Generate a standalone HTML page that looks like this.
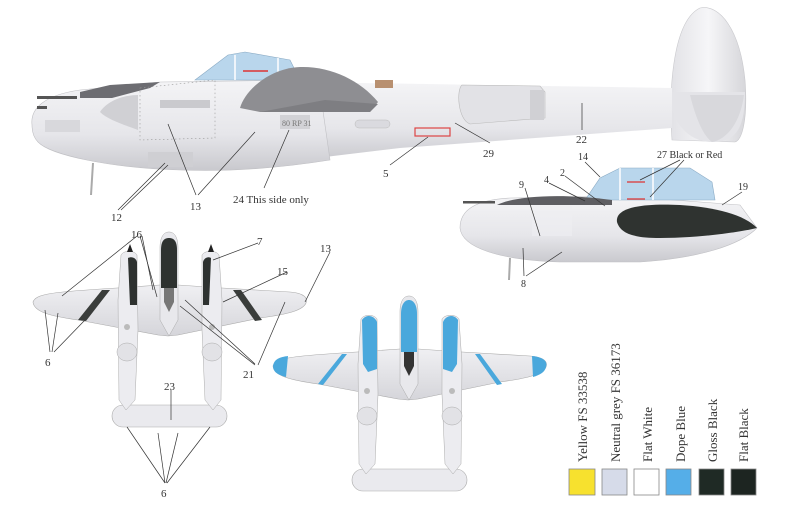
<!DOCTYPE html>
<html><head><meta charset="utf-8"><style>
html,body{margin:0;padding:0;background:#fff;}
svg{display:block}
text{font-family:"Liberation Serif",serif;fill:#333;}
</style></head><body>
<svg width="800" height="518" viewBox="0 0 800 518" xmlns="http://www.w3.org/2000/svg">
<defs>
<linearGradient id="body" x1="0" y1="0" x2="0" y2="1">
<stop offset="0" stop-color="#f4f4f6"/><stop offset="0.6" stop-color="#e6e6ea"/><stop offset="1" stop-color="#c9c9ce"/></linearGradient>
<linearGradient id="fin" x1="0" y1="0" x2="1" y2="0">
<stop offset="0" stop-color="#e2e2e6"/><stop offset="0.5" stop-color="#f6f6f8"/><stop offset="1" stop-color="#d6d6da"/></linearGradient>
<linearGradient id="top" x1="0" y1="0" x2="0" y2="1">
<stop offset="0" stop-color="#f0f0f3"/><stop offset="1" stop-color="#d5d5da"/></linearGradient>
</defs>
<rect width="800" height="518" fill="#fff"/>

<!-- ===== Main side view ===== -->
<!-- tail fin -->
<path d="M672,140 C668,80 675,20 700,8 C720,4 740,30 745,80 C748,120 742,140 735,142 Z" fill="url(#fin)" stroke="#c8c8cc" stroke-width="0.6"/>
<path d="M668,92 L745,92 C745,130 735,142 712,142 C690,142 672,125 668,92 Z" fill="#e4e4e8"/>
<path d="M690,95 C700,135 710,140 712,142 C725,140 740,125 744,95 Z" fill="#d8d8dc"/>
<!-- boom -->
<path d="M300,82 L672,88 L672,128 L400,148 L300,160 Z" fill="url(#body)"/>
<!-- turbo -->
<path d="M462,85 L540,86 L545,92 L545,118 L470,124 C458,120 456,90 462,85 Z" fill="#e2e2e6" stroke="#bbb" stroke-width="0.6"/>
<rect x="530" y="90" width="14" height="30" fill="#d0d0d4"/>
<!-- fuselage nacelle -->
<path d="M32,125 C30,108 45,95 80,90 L160,82 L300,80 L320,90 L330,160 C280,168 230,172 180,170 C110,168 50,155 38,142 C33,137 32,131 32,125 Z" fill="url(#body)" stroke="#c0c0c4" stroke-width="0.6"/>
<!-- canopy -->
<path d="M195,80 L228,55 L245,52 L290,60 L300,80 Z" fill="#b9d6ec" stroke="#8aaac4" stroke-width="0.6"/>
<line x1="235" y1="55" x2="235" y2="80" stroke="#fff" stroke-width="1.5"/>
<line x1="278" y1="58" x2="278" y2="80" stroke="#fff" stroke-width="1.5"/>
<line x1="243" y1="71" x2="268" y2="71" stroke="#d33" stroke-width="1.5"/>
<!-- dark wing root -->
<path d="M240,108 C245,90 270,68 300,67 C330,66 360,80 378,102 L370,112 L260,112 Z" fill="#8e8e92"/>
<path d="M260,112 L370,112 L378,104 L325,100 Z" fill="#7e7e82"/>
<rect x="375" y="80" width="18" height="8" fill="#b89070"/>
<!-- top cowl dark -->
<path d="M80,92 L110,85 L160,82 L150,88 L112,98 L80,98 Z" fill="#6d6d72"/>
<!-- spinner cone -->
<path d="M100,112 C108,100 125,95 138,95 L138,130 C125,125 108,120 100,112 Z" fill="#d0d0d4"/>
<!-- panels -->
<path d="M140,88 L215,80 L215,138 L140,140 Z" fill="none" stroke="#999" stroke-width="0.6" stroke-dasharray="1.5,2.5"/>
<rect x="160" y="100" width="50" height="8" fill="#cacace"/>
<rect x="148" y="152" width="45" height="15" fill="#cfcfd3"/>
<rect x="45" y="120" width="35" height="12" fill="#d8d8dc"/>
<rect x="280" y="115" width="30" height="14" fill="#d2d2d6"/>
<text x="282" y="126" font-size="8" style="fill:#777">80 RP 31</text>
<rect x="355" y="120" width="35" height="8" rx="4" fill="#dadadf" stroke="#bbb" stroke-width="0.5"/>
<rect x="415" y="128" width="35" height="8" fill="none" stroke="#d44" stroke-width="1.2"/>
<!-- guns -->
<rect x="37" y="96" width="40" height="3" fill="#555"/>
<rect x="37" y="106" width="10" height="3" fill="#555"/>
<!-- gear leg -->
<line x1="93" y1="163" x2="91" y2="195" stroke="#aaa" stroke-width="2"/>

<!-- leaders main -->
<g stroke="#333" stroke-width="0.7" fill="none">
<line x1="118" y1="210" x2="165" y2="163"/><line x1="121" y1="210" x2="168" y2="165"/>
<line x1="196" y1="195" x2="168" y2="124"/><line x1="198" y1="195" x2="255" y2="132"/>
<line x1="264" y1="188" x2="289" y2="130"/>
<line x1="390" y1="165" x2="428" y2="137"/>
<line x1="490" y1="143" x2="455" y2="123"/>
<line x1="582" y1="130" x2="582" y2="103"/>
</g>
<text x="111" y="221" font-size="11">12</text>
<text x="190" y="210" font-size="11">13</text>
<text x="233" y="203" font-size="11">24 This side only</text>
<text x="383" y="177" font-size="11">5</text>
<text x="483" y="157" font-size="11">29</text>
<text x="576" y="143" font-size="11">22</text>

<!-- ===== Small side view ===== -->
<path d="M460,228 C460,210 475,200 510,198 L620,196 L740,205 L757,228 C740,245 700,258 640,262 L560,262 C500,260 462,248 460,228 Z" fill="url(#body)" stroke="#c0c0c4" stroke-width="0.6"/>
<path d="M585,200 L600,178 L620,168 L690,168 L712,182 L715,200 Z" fill="#b9d6ec" stroke="#8aaac4" stroke-width="0.6"/>
<line x1="620" y1="168" x2="620" y2="200" stroke="#fff" stroke-width="1.5"/>
<line x1="653" y1="168" x2="653" y2="200" stroke="#fff" stroke-width="1.5"/>
<line x1="627" y1="182" x2="645" y2="182" stroke="#d33" stroke-width="1.2"/>
<line x1="627" y1="199" x2="645" y2="199" stroke="#d33" stroke-width="1.2"/>
<path d="M497,205 C515,196 560,193 612,200 L612,205 Z" fill="#5e5e62"/>
<path d="M617,222 C615,208 640,203 680,205 C715,207 745,215 757,228 C740,232 700,238 660,238 C630,238 620,232 617,222 Z" fill="#2f3330"/>
<rect x="463" y="201" width="32" height="2.5" fill="#555"/>
<rect x="532" y="206" width="40" height="30" fill="#efeff2" opacity="0.6"/>
<line x1="510" y1="258" x2="509" y2="280" stroke="#aaa" stroke-width="2"/>
<g stroke="#333" stroke-width="0.7" fill="none">
<line x1="585" y1="162" x2="600" y2="177"/>
<line x1="680" y1="160" x2="640" y2="180"/><line x1="684" y1="160" x2="650" y2="197"/>
<line x1="742" y1="192" x2="722" y2="205"/>
<line x1="525" y1="188" x2="540" y2="236"/>
<line x1="549" y1="183" x2="585" y2="201"/>
<line x1="565" y1="176" x2="605" y2="206"/>
<line x1="524" y1="276" x2="523" y2="248"/><line x1="526" y1="276" x2="562" y2="252"/>
</g>
<text x="578" y="160" font-size="10">14</text>
<text x="657" y="158" font-size="10">27 Black or Red</text>
<text x="738" y="190" font-size="10">19</text>
<text x="519" y="188" font-size="10">9</text>
<text x="544" y="183" font-size="10">4</text>
<text x="560" y="176" font-size="10">2</text>
<text x="521" y="287" font-size="10">8</text>

<!-- ===== Top view 1 ===== -->
<g id="p1">
<path d="M33,302 C36,294 50,292 117,288 L160,285 L178,285 L222,288 L290,292 C304,293 308,298 306,303 C303,310 290,314 260,318 L178,335 L168,336 L158,335 L78,320 C50,316 34,312 33,302 Z" fill="url(#top)" stroke="#aaa" stroke-width="0.6"/>
<rect x="112" y="405" width="115" height="22" rx="11" fill="#eaeaee" stroke="#aaa" stroke-width="0.6"/>
<path d="M118,300 L121,255 C124,250 134,250 137,255 L138,330 L135,400 L126,410 L119,400 Z" fill="#ececf0" stroke="#aaa" stroke-width="0.5"/>
<path d="M202,255 C205,250 216,250 219,255 L222,300 L221,400 L213,410 L205,400 L202,330 Z" fill="#ececf0" stroke="#aaa" stroke-width="0.5"/>
<ellipse cx="127" cy="352" rx="10" ry="9" fill="#e2e2e6" stroke="#aaa" stroke-width="0.5"/>
<ellipse cx="212" cy="352" rx="10" ry="9" fill="#e2e2e6" stroke="#aaa" stroke-width="0.5"/>
<path d="M160,248 C160,235 165,232 169,232 C173,232 178,235 178,248 L178,320 L169,336 L160,320 Z" fill="#e8e8ec" stroke="#aaa" stroke-width="0.5"/>
<path d="M161,250 C161,240 165,238 169,238 C173,238 177,240 177,250 L177,288 L161,288 Z" fill="#2e3230"/>
<path d="M164,288 L174,288 L174,302 L169,312 L164,302 Z" fill="#777"/>
<path d="M128,258 C132,256 136,258 137,262 L137,305 L130,305 Z" fill="#2e3230"/>
<path d="M203,262 C204,258 208,256 211,258 L209,305 L203,305 Z" fill="#2e3230"/>
<path d="M102,290 L110,290 L86,321 L78,320 Z" fill="#3a3d3b"/>
<path d="M233,290 L241,290 L262,320 L255,321 Z" fill="#3a3d3b"/>
<polygon points="127,252 130,244 133,252" fill="#222"/>
<polygon points="208,252 211,244 214,252" fill="#222"/>
<circle cx="127" cy="327" r="3" fill="#bbb"/><circle cx="212" cy="327" r="3" fill="#bbb"/>
</g>
<g stroke="#333" stroke-width="0.7" fill="none">
<line x1="137" y1="236" x2="62" y2="296"/><line x1="140" y1="236" x2="157" y2="297"/><line x1="142" y1="236" x2="153" y2="290"/>
<line x1="258" y1="243" x2="213" y2="260"/>
<line x1="287" y1="272" x2="223" y2="302"/>
<line x1="330" y1="252" x2="305" y2="302"/>
<line x1="50" y1="352" x2="45" y2="310"/><line x1="52" y1="352" x2="58" y2="313"/><line x1="54" y1="352" x2="85" y2="320"/>
<line x1="255" y1="364" x2="185" y2="300"/><line x1="255" y1="365" x2="180" y2="306"/><line x1="258" y1="365" x2="285" y2="302"/>
<line x1="171" y1="390" x2="171" y2="420"/>
<line x1="165" y1="483" x2="127" y2="427"/><line x1="165" y1="483" x2="158" y2="433"/><line x1="166" y1="483" x2="178" y2="433"/><line x1="167" y1="483" x2="210" y2="427"/>
</g>
<text x="131" y="238" font-size="11">16</text>
<text x="257" y="245" font-size="11">7</text>
<text x="277" y="275" font-size="11">15</text>
<text x="320" y="252" font-size="11">13</text>
<text x="45" y="366" font-size="11">6</text>
<text x="243" y="378" font-size="11">21</text>
<text x="164" y="390" font-size="11">23</text>
<text x="161" y="497" font-size="11">6</text>

<!-- ===== Top view 2 (blue) ===== -->
<g transform="translate(240,64)">
<path d="M33,302 C36,294 50,292 117,288 L160,285 L178,285 L222,288 L290,292 C304,293 308,298 306,303 C303,310 290,314 260,318 L178,335 L168,336 L158,335 L78,320 C50,316 34,312 33,302 Z" fill="url(#top)" stroke="#aaa" stroke-width="0.6"/>
<path d="M33,302 C34,295 40,293 48,292 L46,313 C38,311 33,308 33,302 Z" fill="#4aa8dc"/>
<path d="M292,292 C304,293 308,298 306,303 C305,308 300,311 293,313 Z" fill="#4aa8dc"/>
<rect x="112" y="405" width="115" height="22" rx="11" fill="#eaeaee" stroke="#aaa" stroke-width="0.6"/>
<path d="M118,300 L121,255 C124,250 134,250 137,255 L138,330 L135,400 L126,410 L119,400 Z" fill="#ececf0" stroke="#aaa" stroke-width="0.5"/>
<path d="M202,255 C205,250 216,250 219,255 L222,300 L221,400 L213,410 L205,400 L202,330 Z" fill="#ececf0" stroke="#aaa" stroke-width="0.5"/>
<ellipse cx="127" cy="352" rx="10" ry="9" fill="#e2e2e6" stroke="#aaa" stroke-width="0.5"/>
<ellipse cx="212" cy="352" rx="10" ry="9" fill="#e2e2e6" stroke="#aaa" stroke-width="0.5"/>
<path d="M160,248 C160,235 165,232 169,232 C173,232 178,235 178,248 L178,320 L169,336 L160,320 Z" fill="#e8e8ec" stroke="#aaa" stroke-width="0.5"/>
<path d="M161,250 C161,240 165,236 169,236 C173,236 177,240 177,250 L177,288 L161,288 Z" fill="#4aa8dc"/>
<path d="M164,288 L174,288 L174,302 L169,312 L164,302 Z" fill="#333"/>
<path d="M122,256 C126,250 134,251 137,258 L137,305 L128,308 L123,300 Z" fill="#4aa8dc"/>
<path d="M203,258 C206,251 214,250 218,256 L217,300 L212,308 L203,305 Z" fill="#4aa8dc"/>
<path d="M102,290 L107,290 L83,321 L78,320 Z" fill="#4aa8dc"/>
<path d="M235,290 L240,290 L262,320 L257,321 Z" fill="#4aa8dc"/>
<circle cx="127" cy="327" r="3" fill="#bbb"/><circle cx="212" cy="327" r="3" fill="#bbb"/>
</g>

<!-- ===== Legend ===== -->
<g font-size="13">
<text transform="translate(587,462) rotate(-90)">Yellow FS 33538</text>
<text transform="translate(620,462) rotate(-90)">Neutral grey FS 36173</text>
<text transform="translate(652,462) rotate(-90)">Flat White</text>
<text transform="translate(685,462) rotate(-90)">Dope Blue</text>
<text transform="translate(717,462) rotate(-90)">Gloss Black</text>
<text transform="translate(748,462) rotate(-90)">Flat Black</text>
</g>
<g stroke="#888" stroke-width="0.8">
<rect x="569" y="469" width="26" height="26" fill="#f7e12e"/>
<rect x="602" y="469" width="25" height="26" fill="#d6dbe9"/>
<rect x="634" y="469" width="25" height="26" fill="#ffffff"/>
<rect x="666" y="469" width="25" height="26" fill="#55aee8"/>
<rect x="699" y="469" width="25" height="26" fill="#1f2a25"/>
<rect x="731" y="469" width="25" height="26" fill="#1d2521"/>
</g>
</svg>
</body></html>
